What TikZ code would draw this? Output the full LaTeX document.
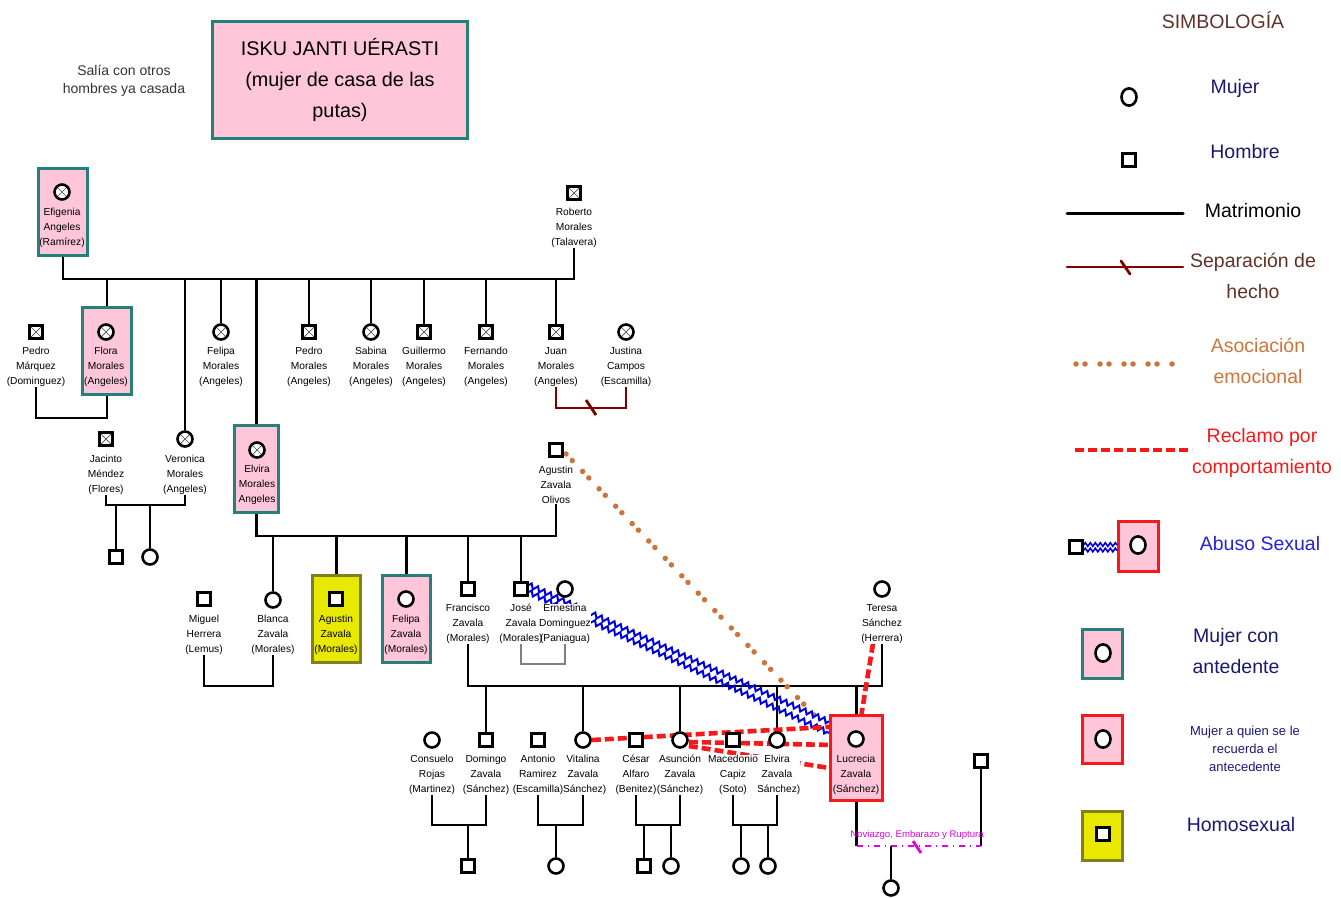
\documentclass[tikz,border=0pt]{standalone}
\usepackage{fontspec}
\setmainfont{Liberation Sans}
\usetikzlibrary{positioning,backgrounds,decorations.pathmorphing}
\definecolor{rosa}{RGB}{255,198,218}
\definecolor{verdeazul}{RGB}{38,128,122}
\definecolor{amarillo}{RGB}{232,232,0}
\definecolor{oliva}{RGB}{128,128,30}
\definecolor{rojo}{RGB}{245,25,25}
\definecolor{azul}{RGB}{0,0,220}
\definecolor{azulclaro}{RGB}{35,35,215}
\definecolor{naranja}{RGB}{205,115,60}
\definecolor{guinda}{RGB}{128,0,0}
\definecolor{cafe}{RGB}{95,50,40}
\definecolor{marino}{RGB}{25,25,115}
\definecolor{morado}{RGB}{225,0,225}

\begin{document}
\begin{tikzpicture}[x=1pt,y=-1pt,line cap=round,
  linea/.style={line width=2.8pt},
  mujer/.style={circle,draw,line width=2.6pt,fill=white,minimum size=15pt,inner sep=0pt},
  hombre/.style={rectangle,draw,line width=2.6pt,fill=white,minimum size=13.5pt,inner sep=0pt},
  finado/.style={path picture={\draw[line width=0.7pt,black!70] (path picture bounding box.north west) -- (path picture bounding box.south east) (path picture bounding box.north east) -- (path picture bounding box.south west);}},
  etiqueta/.style={font=\fontsize{10.2}{15}\selectfont,align=center,inner sep=0pt,fill=white},
  caja/.style={rectangle,draw=verdeazul,line width=3.2pt,fill=rosa,minimum width=48pt,minimum height=87pt},
  cajaroja/.style={caja,draw=rojo},
  cajaamarilla/.style={caja,draw=oliva,fill=amarillo},
  leyenda/.style={font=\fontsize{19.5}{31}\selectfont,align=center},
  separacion/.style={line width=2.8pt,guinda},
  asociacion/.style={naranja,line width=5.5pt,line cap=round,dash pattern=on 0pt off 9pt on 0pt off 15pt},
  reclamo/.style={rojo,line width=4.6pt,line cap=butt,dash pattern=on 9pt off 4pt},
  abuso/.style={azul,line width=2pt,decorate,decoration={zigzag,amplitude=2.5pt,segment length=7pt}},
  noviazgo/.style={morado,line width=2.6pt,dash pattern=on 6pt off 5pt on 1pt off 5pt}]
\useasboundingbox (0,0) rectangle (1341,897);

% titulo
\node[caja,minimum width=255pt,minimum height=117pt,line width=3.8pt,font=\fontsize{19.8}{31}\selectfont,align=center] (titulo) at (340,80) {ISKU JANTI UÉRASTI\\(mujer de casa de las\\putas)};
\node[font=\fontsize{14}{18}\selectfont,align=center,text=black!80] (nota) at (124,81) {Salía con otros\\hombres ya casada};

% primera generacion
\node[caja,minimum width=49pt] (efigenia-c) at (63,212) {};
\node[mujer,finado] (efigenia) at (62,192) {};
\node[etiqueta,fill=none] (efigenia-t) at (62,228) {Efigenia\\Angeles\\(Ramírez)};
\node[hombre,finado] (roberto) at (574,193) {};
\node[etiqueta] (roberto-t) at (574,228) {Roberto\\Morales\\(Talavera)};

% segunda generacion
\node[hombre,finado] (pedroM) at (36,332) {};
\node[etiqueta] (pedroM-t) at (36,367) {Pedro\\Márquez\\(Dominguez)};
\node[caja,minimum width=49pt] (flora-c) at (107,351) {};
\node[mujer,finado] (flora) at (106,332) {};
\node[etiqueta,fill=none] (flora-t) at (106,367) {Flora\\Morales\\(Angeles)};
\node[mujer,finado] (felipaM) at (221,332) {};
\node[etiqueta] (felipaM-t) at (221,367) {Felipa\\Morales\\(Angeles)};
\node[hombre,finado] (pedro) at (309,332) {};
\node[etiqueta] (pedro-t) at (309,367) {Pedro\\Morales\\(Angeles)};
\node[mujer,finado] (sabina) at (371,332) {};
\node[etiqueta] (sabina-t) at (371,367) {Sabina\\Morales\\(Angeles)};
\node[hombre,finado] (guillermo) at (424,332) {};
\node[etiqueta] (guillermo-t) at (424,367) {Guillermo\\Morales\\(Angeles)};
\node[hombre,finado] (fernando) at (486,332) {};
\node[etiqueta] (fernando-t) at (486,367) {Fernando\\Morales\\(Angeles)};
\node[hombre,finado] (juan) at (556,332) {};
\node[etiqueta] (juan-t) at (556,367) {Juan\\Morales\\(Angeles)};
\node[mujer,finado] (justina) at (626,332) {};
\node[etiqueta] (justina-t) at (626,367) {Justina\\Campos\\(Escamilla)};
\node[hombre,finado] (jacinto) at (106,439) {};
\node[etiqueta] (jacinto-t) at (106,475) {Jacinto\\Méndez\\(Flores)};
\node[mujer,finado] (veronica) at (185,439) {};
\node[etiqueta] (veronica-t) at (185,475) {Veronica\\Morales\\(Angeles)};
\node[caja,minimum width=44pt] (elvira-c) at (256.5,469) {};
\node[mujer,finado] (elvira) at (257,450) {};
\node[etiqueta,fill=none] (elvira-t) at (257,485) {Elvira\\Morales\\Angeles};
\node[hombre] (agustinO) at (556,450) {};
\node[etiqueta] (agustinO-t) at (556,485) {Agustin\\Zavala\\Olivos};
\node[hombre] (hijoJ) at (116,557) {};
\node[mujer] (hijaJ) at (150,557) {};

% tercera generacion
\node[hombre] (miguel) at (204,599) {};
\node[etiqueta] (miguel-t) at (204,635) {Miguel\\Herrera\\(Lemus)};
\node[mujer] (blanca) at (273,600) {};
\node[etiqueta] (blanca-t) at (273,635) {Blanca\\Zavala\\(Morales)};
\node[cajaamarilla] (agustinZ-c) at (336.5,619) {};
\node[hombre] (agustinZ) at (336,599) {};
\node[etiqueta,fill=none] (agustinZ-t) at (336,635) {Agustin\\Zavala\\(Morales)};
\node[caja] (felipaZ-c) at (406.5,619) {};
\node[mujer] (felipaZ) at (406,599) {};
\node[etiqueta,fill=none] (felipaZ-t) at (406,635) {Felipa\\Zavala\\(Morales)};
\node[hombre] (francisco) at (468,589) {};
\node[etiqueta] (francisco-t) at (468,624) {Francisco\\Zavala\\(Morales)};
\node[mujer] (ernestina) at (565,589) {};
\node[etiqueta] (ernestina-t) at (565,624) {Ernestina\\Dominguez\\(Paniagua)};
\node[hombre] (jose) at (521,589) {};
\node[etiqueta,fill=none] (jose-t) at (521,624) {José\\Zavala\\(Morales)};
\node[mujer] (teresa) at (882,589) {};
\node[etiqueta] (teresa-t) at (882,624) {Teresa\\Sánchez\\(Herrera)};

% cuarta generacion
\node[mujer] (consuelo) at (432,740) {};
\node[etiqueta] (consuelo-t) at (432,775) {Consuelo\\Rojas\\(Martinez)};
\node[hombre] (domingo) at (486,740) {};
\node[etiqueta] (domingo-t) at (486,775) {Domingo\\Zavala\\(Sánchez)};
\node[mujer] (vitalina) at (583,740) {};
\node[etiqueta] (vitalina-t) at (583,775) {Vitalina\\Zavala\\(Sánchez)};
\node[hombre] (antonio) at (538,740) {};
\node[etiqueta] (antonio-t) at (538,775) {Antonio\\Ramirez\\(Escamilla)};
\node[hombre] (cesar) at (636,740) {};
\node[etiqueta] (cesar-t) at (636,775) {César\\Alfaro\\(Benitez)};
\node[mujer] (asuncion) at (680,740) {};
\node[etiqueta] (asuncion-t) at (680,775) {Asunción\\Zavala\\(Sánchez)};
\node[mujer] (elviraZ) at (777,740) {};
\node[etiqueta] (elviraZ-t) at (777,775) {Elvira\\Zavala\\(Sánchez)};
\node[hombre] (macedonio) at (733,740) {};
\node[etiqueta] (macedonio-t) at (733,775) {Macedonio\\Capiz\\(Soto)};
\node[cajaroja,minimum width=52pt,minimum height=85pt] (lucrecia-c) at (856.5,758) {};
\node[mujer] (lucrecia) at (856,739) {};
\node[etiqueta,fill=none] (lucrecia-t) at (856,775) {Lucrecia\\Zavala\\(Sánchez)};
\node[hombre] (novio) at (981,761) {};
\node[font=\fontsize{9.6}{11}\selectfont,text=morado,inner sep=0.5pt] (noviazgo-t) at (917,835) {Noviazgo, Embarazo y Ruptura};

% quinta generacion
\node[hombre] (hijoD) at (468,866) {};
\node[mujer] (hijaV) at (556,866) {};
\node[hombre] (hijoA) at (644,866) {};
\node[mujer] (hijaA) at (671,866) {};
\node[mujer] (hijaE1) at (741,866) {};
\node[mujer] (hijaE2) at (768,866) {};
\node[mujer] (hijaL) at (891,888) {};

\begin{scope}[on background layer]
\coordinate (b1) at (0,279);
\coordinate (b2) at (0,418);
\coordinate (b3) at (0,408);
\coordinate (b4) at (0,505);
\coordinate (b5) at (0,536);
\coordinate (b6) at (0,686);
\coordinate (b7) at (0,664);
\coordinate (b8) at (0,825);
\coordinate (b9) at (0,846);
\draw[linea] (efigenia-c.south) -- (efigenia-c.south |- b1) -| (roberto-t.south);
\draw[linea] (flora-c.north) -- (flora-c.north |- b1);
\draw[linea] (veronica.north) -- (veronica.north |- b1);
\draw[linea] (felipaM.north) -- (felipaM.north |- b1);
\draw[linea] (elvira-c.north) -- (elvira-c.north |- b1);
\draw[linea] (pedro.north) -- (pedro.north |- b1);
\draw[linea] (sabina.north) -- (sabina.north |- b1);
\draw[linea] (guillermo.north) -- (guillermo.north |- b1);
\draw[linea] (fernando.north) -- (fernando.north |- b1);
\draw[linea] (juan.north) -- (juan.north |- b1);
\draw[linea] (pedroM-t.south) -- (pedroM-t.south |- b2) -| (flora-c.south);
\draw[separacion] (juan-t.south) -- (juan-t.south |- b3) -| (justina-t.south);
\draw[separacion] (586,400) -- (596,415);
\draw[linea] (jacinto-t.south) -- (jacinto-t.south |- b4) -| (veronica-t.south);
\draw[linea] (hijoJ.north) -- (hijoJ.north |- b4);
\draw[linea] (hijaJ.north) -- (hijaJ.north |- b4);
\draw[linea] (elvira-c.south) -- (elvira-c.south |- b5) -| (agustinO-t.south);
\draw[linea] (blanca.north) -- (blanca.north |- b5);
\draw[linea] (agustinZ-c.north) -- (agustinZ-c.north |- b5);
\draw[linea] (felipaZ-c.north) -- (felipaZ-c.north |- b5);
\draw[linea] (francisco.north) -- (francisco.north |- b5);
\draw[linea] (jose.north) -- (jose.north |- b5);
\draw[linea] (miguel-t.south) -- (miguel-t.south |- b6) -| (blanca-t.south);
\draw[linea,gray] (jose-t.south) -- (jose-t.south |- b7) -| (ernestina-t.south);
\draw[linea] (francisco-t.south) -- (francisco-t.south |- b6) -| (teresa-t.south);
\draw[linea] (domingo.north) -- (domingo.north |- b6);
\draw[linea] (vitalina.north) -- (vitalina.north |- b6);
\draw[linea] (asuncion.north) -- (asuncion.north |- b6);
\draw[linea] (elviraZ.north) -- (elviraZ.north |- b6);
\draw[linea] (lucrecia-c.north) -- (lucrecia-c.north |- b6);
\draw[linea] (consuelo-t.south) -- (consuelo-t.south |- b8) -| (domingo-t.south);
\draw[linea] (hijoD.north) -- (hijoD.north |- b8);
\draw[linea] (antonio-t.south) -- (antonio-t.south |- b8) -| (vitalina-t.south);
\draw[linea] (hijaV.north) -- (hijaV.north |- b8);
\draw[linea] (cesar-t.south) -- (cesar-t.south |- b8) -| (asuncion-t.south);
\draw[linea] (hijoA.north) -- (hijoA.north |- b8);
\draw[linea] (hijaA.north) -- (hijaA.north |- b8);
\draw[linea] (macedonio-t.south) -- (macedonio-t.south |- b8) -| (elviraZ-t.south);
\draw[linea] (hijaE1.north) -- (hijaE1.north |- b8);
\draw[linea] (hijaE2.north) -- (hijaE2.north |- b8);
\draw[linea] (lucrecia-c.south) -- (lucrecia-c.south |- b9);
\draw[linea] (novio.south) -- (novio.south |- b9);
\draw[noviazgo] (lucrecia-c.south |- b9) -- (novio.south |- b9);
\draw[linea,morado] (913,841) -- (921,853);
\draw[linea] (hijaL.north) -- (hijaL.north |- b9);
% relaciones
\draw[asociacion] ([xshift=2pt,yshift=-4pt]agustinO.east) -- ([xshift=-14pt,yshift=-2pt]lucrecia-c.north west);
\draw[abuso] ([yshift=4pt]jose.east) -- ([yshift=-8pt]lucrecia-c.north west);
\draw[abuso] ([yshift=-3pt]jose.east) -- ([yshift=-19pt]lucrecia-c.north west);
\draw[reclamo] ([xshift=-9pt]teresa-t.south) -- ([xshift=5pt]lucrecia-c.north);
\draw[reclamo] (vitalina.east) -- ([yshift=-13pt]lucrecia-c.north west);
\draw[reclamo] ([yshift=-2pt]asuncion.east) -- ([yshift=-31pt]lucrecia-c.north west);
\draw[reclamo] ([yshift=-6pt]asuncion.east) -- ([yshift=-54pt]lucrecia-c.north west);
\end{scope}

% simbologia
\node[leyenda,text=cafe] (simb) at (1223,20) {SIMBOLOGÍA};
\node[mujer,minimum size=15pt,yscale=1.15] (ley-mujer) at (1129,97) {};
\node[leyenda,text=marino] (ley-mujer-t) at (1235,88) {Mujer};
\node[hombre] (ley-hombre) at (1129,160) {};
\node[leyenda,text=marino] (ley-hombre-t) at (1245,152) {Hombre};
\draw[line width=3pt] (1067,213) -- (1183,213);
\node[leyenda] (ley-matrimonio) at (1253,211) {Matrimonio};
\draw[separacion] (1067,267) -- (1183,267);
\draw[separacion] (1121,261) -- (1130,274);
\node[leyenda,text=cafe] (ley-separacion) at (1253,276) {Separación de\\hecho};
\draw[asociacion] (1076,364) -- (1180,364);
\node[leyenda,text=naranja] (ley-asociacion) at (1258,361) {Asociación\\emocional};
\draw[reclamo] (1075,450) -- (1192,450);
\node[leyenda,text=rojo] (ley-reclamo) at (1262,453) {Reclamo por\\comportamiento};
\node[cajaroja,minimum width=40pt,minimum height=50pt] (ley-abuso-c) at (1138.5,546.5) {};
\node[mujer,yscale=1.15] (ley-abuso) at (1138,545) {};
\node[hombre] (ley-abusador) at (1076,547) {};
\draw[abuso,line width=1.6pt,decoration={amplitude=1.8pt,segment length=5pt}] ([yshift=2.5pt]ley-abusador.east) -- ([yshift=2.5pt]ley-abusador.east -| ley-abuso-c.west);
\draw[abuso,line width=1.6pt,decoration={amplitude=1.8pt,segment length=5pt}] ([yshift=-3pt]ley-abusador.east) -- ([yshift=-3pt]ley-abusador.east -| ley-abuso-c.west);
\node[leyenda,text=azulclaro] (ley-abuso-t) at (1260,544) {Abuso Sexual};
\node[caja,minimum width=40pt,minimum height=49pt] (ley-antecedente-c) at (1102.5,654) {};
\node[mujer,yscale=1.15] (ley-antecedente) at (1103,653) {};
\node[leyenda,text=marino] (ley-antecedente-t) at (1236,651) {Mujer con\\antedente};
\node[cajaroja,minimum width=40pt,minimum height=48pt] (ley-recuerda-c) at (1102.5,739.5) {};
\node[mujer,yscale=1.15] (ley-recuerda) at (1103,739) {};
\node[font=\fontsize{13}{18}\selectfont,align=center,text=marino] (ley-recuerda-t) at (1245,749) {Mujer a quien se le\\recuerda el\\antecedente};
\node[cajaamarilla,minimum width=40pt,minimum height=49pt] (ley-homo-c) at (1102.5,836) {};
\node[hombre] (ley-homo) at (1103,834) {};
\node[leyenda,text=marino] (ley-homo-t) at (1241,825) {Homosexual};
\end{tikzpicture}
\end{document}
